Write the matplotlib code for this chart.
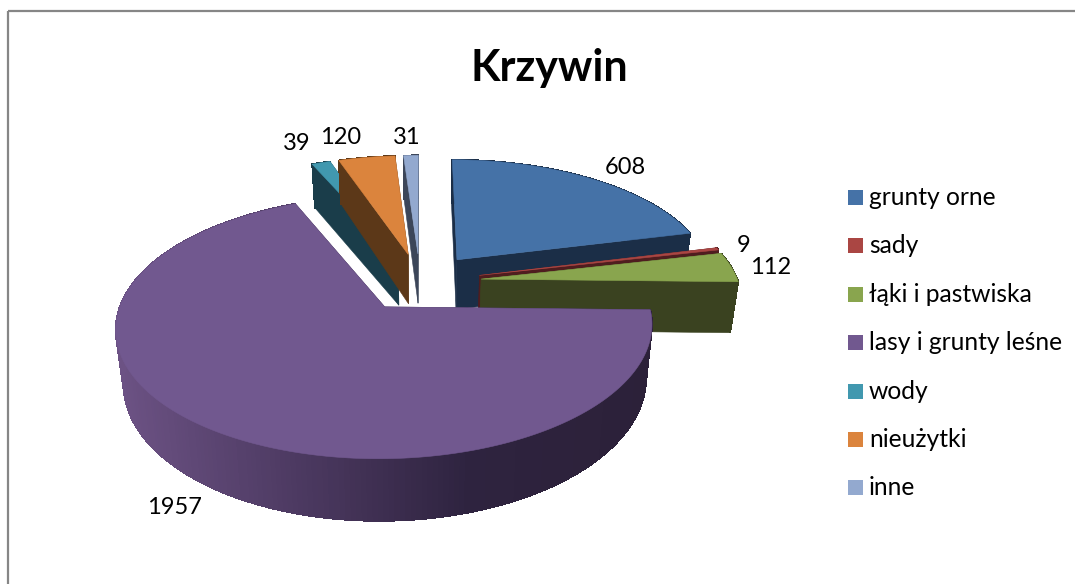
import matplotlib
matplotlib.use('Agg')
import matplotlib.pyplot as plt
from matplotlib.colors import LinearSegmentedColormap
from matplotlib.patches import Polygon, Rectangle
import numpy as np

categories = ['grunty orne', 'sady', 'łąki i pastwiska', 'lasy i grunty leśne', 'wody', 'nieużytki', 'inne']
values = [608, 9, 112, 1957, 39, 120, 31]
top_colors = ['#4572a7', '#aa4643', '#89a54e', '#71588f', '#4198af', '#db843d', '#93a9cf']
side_colors = ['#1b2e47', '#4f1d1f', '#3a4220', '#2e2240', '#1a3d4a', '#5c3818', '#3c4659']

# pixel-like coordinates, one unit = one pixel of the output
W, H = 1075, 584
CX, CY = 420, 282      # pie centre on screen
R = 257                # radius, x direction
A = 121                # radius, y direction
P = 0.149              # perspective strength
EXPLODE = 0.24
DEPTH = 51
TAPER = 0.0005         # bottom of the pie is a bit narrower than the top

plt.rcParams['font.family'] = ['Lato', 'DejaVu Sans']

rim_cmap = LinearSegmentedColormap.from_list('rim', ['#6c5284', '#4d3a62', '#2e233f', '#2c2139'])


def project(u, v, z=0):
    s = 1 / (1 + P * v)
    return CX + R * u * s * (1 + TAPER * z), CY - (A * v + z) * s


def wedge_points(a0, a1, mid, n=240):
    t = np.linspace(a0, a1, n)
    off_u, off_v = EXPLODE * np.sin(mid), EXPLODE * np.cos(mid)
    return off_u, off_v, off_u + np.sin(t), off_v + np.cos(t)


fig = plt.figure(figsize=(W / 100, H / 100), dpi=100)
ax = fig.add_axes([0, 0, 1, 1])
ax.set_xlim(0, W)
ax.set_ylim(H, 0)
ax.axis('off')

# chart frame, only left and top show in the picture
ax.plot([8, 8], [H, 11], color='#868686', lw=1.6, solid_capstyle='butt')
ax.plot([8, W], [11, 11], color='#868686', lw=1.6, solid_capstyle='butt')

edges = np.cumsum([0] + values) / sum(values) * 2 * np.pi

# far slices first, the big purple one last
for i in [4, 5, 6, 0, 1, 2, 3]:
    a0, a1 = edges[i], edges[i + 1]
    mid = (a0 + a1) / 2
    ou, ov, u, v = wedge_points(a0, a1, mid)
    side = side_colors[i]

    # the two cut faces
    for k in [0, -1]:
        x_a, y_a = project(ou, ov)
        x_b, y_b = project(u[k], v[k])
        x_c, y_c = project(u[k], v[k], -DEPTH)
        x_d, y_d = project(ou, ov, -DEPTH)
        ax.add_patch(Polygon([(x_a, y_a), (x_b, y_b), (x_c, y_c), (x_d, y_d)],
                             fc=side, ec=side, lw=0.4))

    # outer rim, split in small quads so it can carry the shading
    xt, yt = project(u, v)
    xb, yb = project(u, v, -DEPTH)
    for j in range(len(u) - 1):
        if i == 3:
            c = rim_cmap(np.clip((xt[j] - 116) / 535, 0, 1))
        else:
            c = side
        ax.add_patch(Polygon([(xt[j], yt[j]), (xt[j + 1], yt[j + 1]), (xb[j + 1], yb[j + 1]), (xb[j], yb[j])],
                             fc=c, ec=c, lw=0.6, antialiased=False))

    # top surface
    x0, y0 = project(ou, ov)
    pts = [(x0, y0)] + list(zip(xt, yt))
    ax.add_patch(Polygon(pts, fc=top_colors[i], ec=top_colors[i], lw=0.4))

# data labels
label_pos = [(625, 168), (744, 246), (771, 268), (174, 508), (297, 143), (341, 138), (407, 137)]
for val, (x, y) in zip(values, label_pos):
    ax.text(x, y, str(val), fontsize=17, color='black', ha='center', va='center')

ax.text(549, 68, 'Krzywin', fontsize=31, fontweight='bold', color='black', ha='center', va='center')

# legend
for i, name in enumerate(categories):
    y = 197.5 + i * 48.4
    ax.add_patch(Rectangle((848, y - 7.5), 15, 15, fc=top_colors[i], ec='none'))
    ax.text(869, y, name, fontsize=17.7, color='black', ha='left', va='center')

fig.savefig('out.png', dpi=100, facecolor='white')
